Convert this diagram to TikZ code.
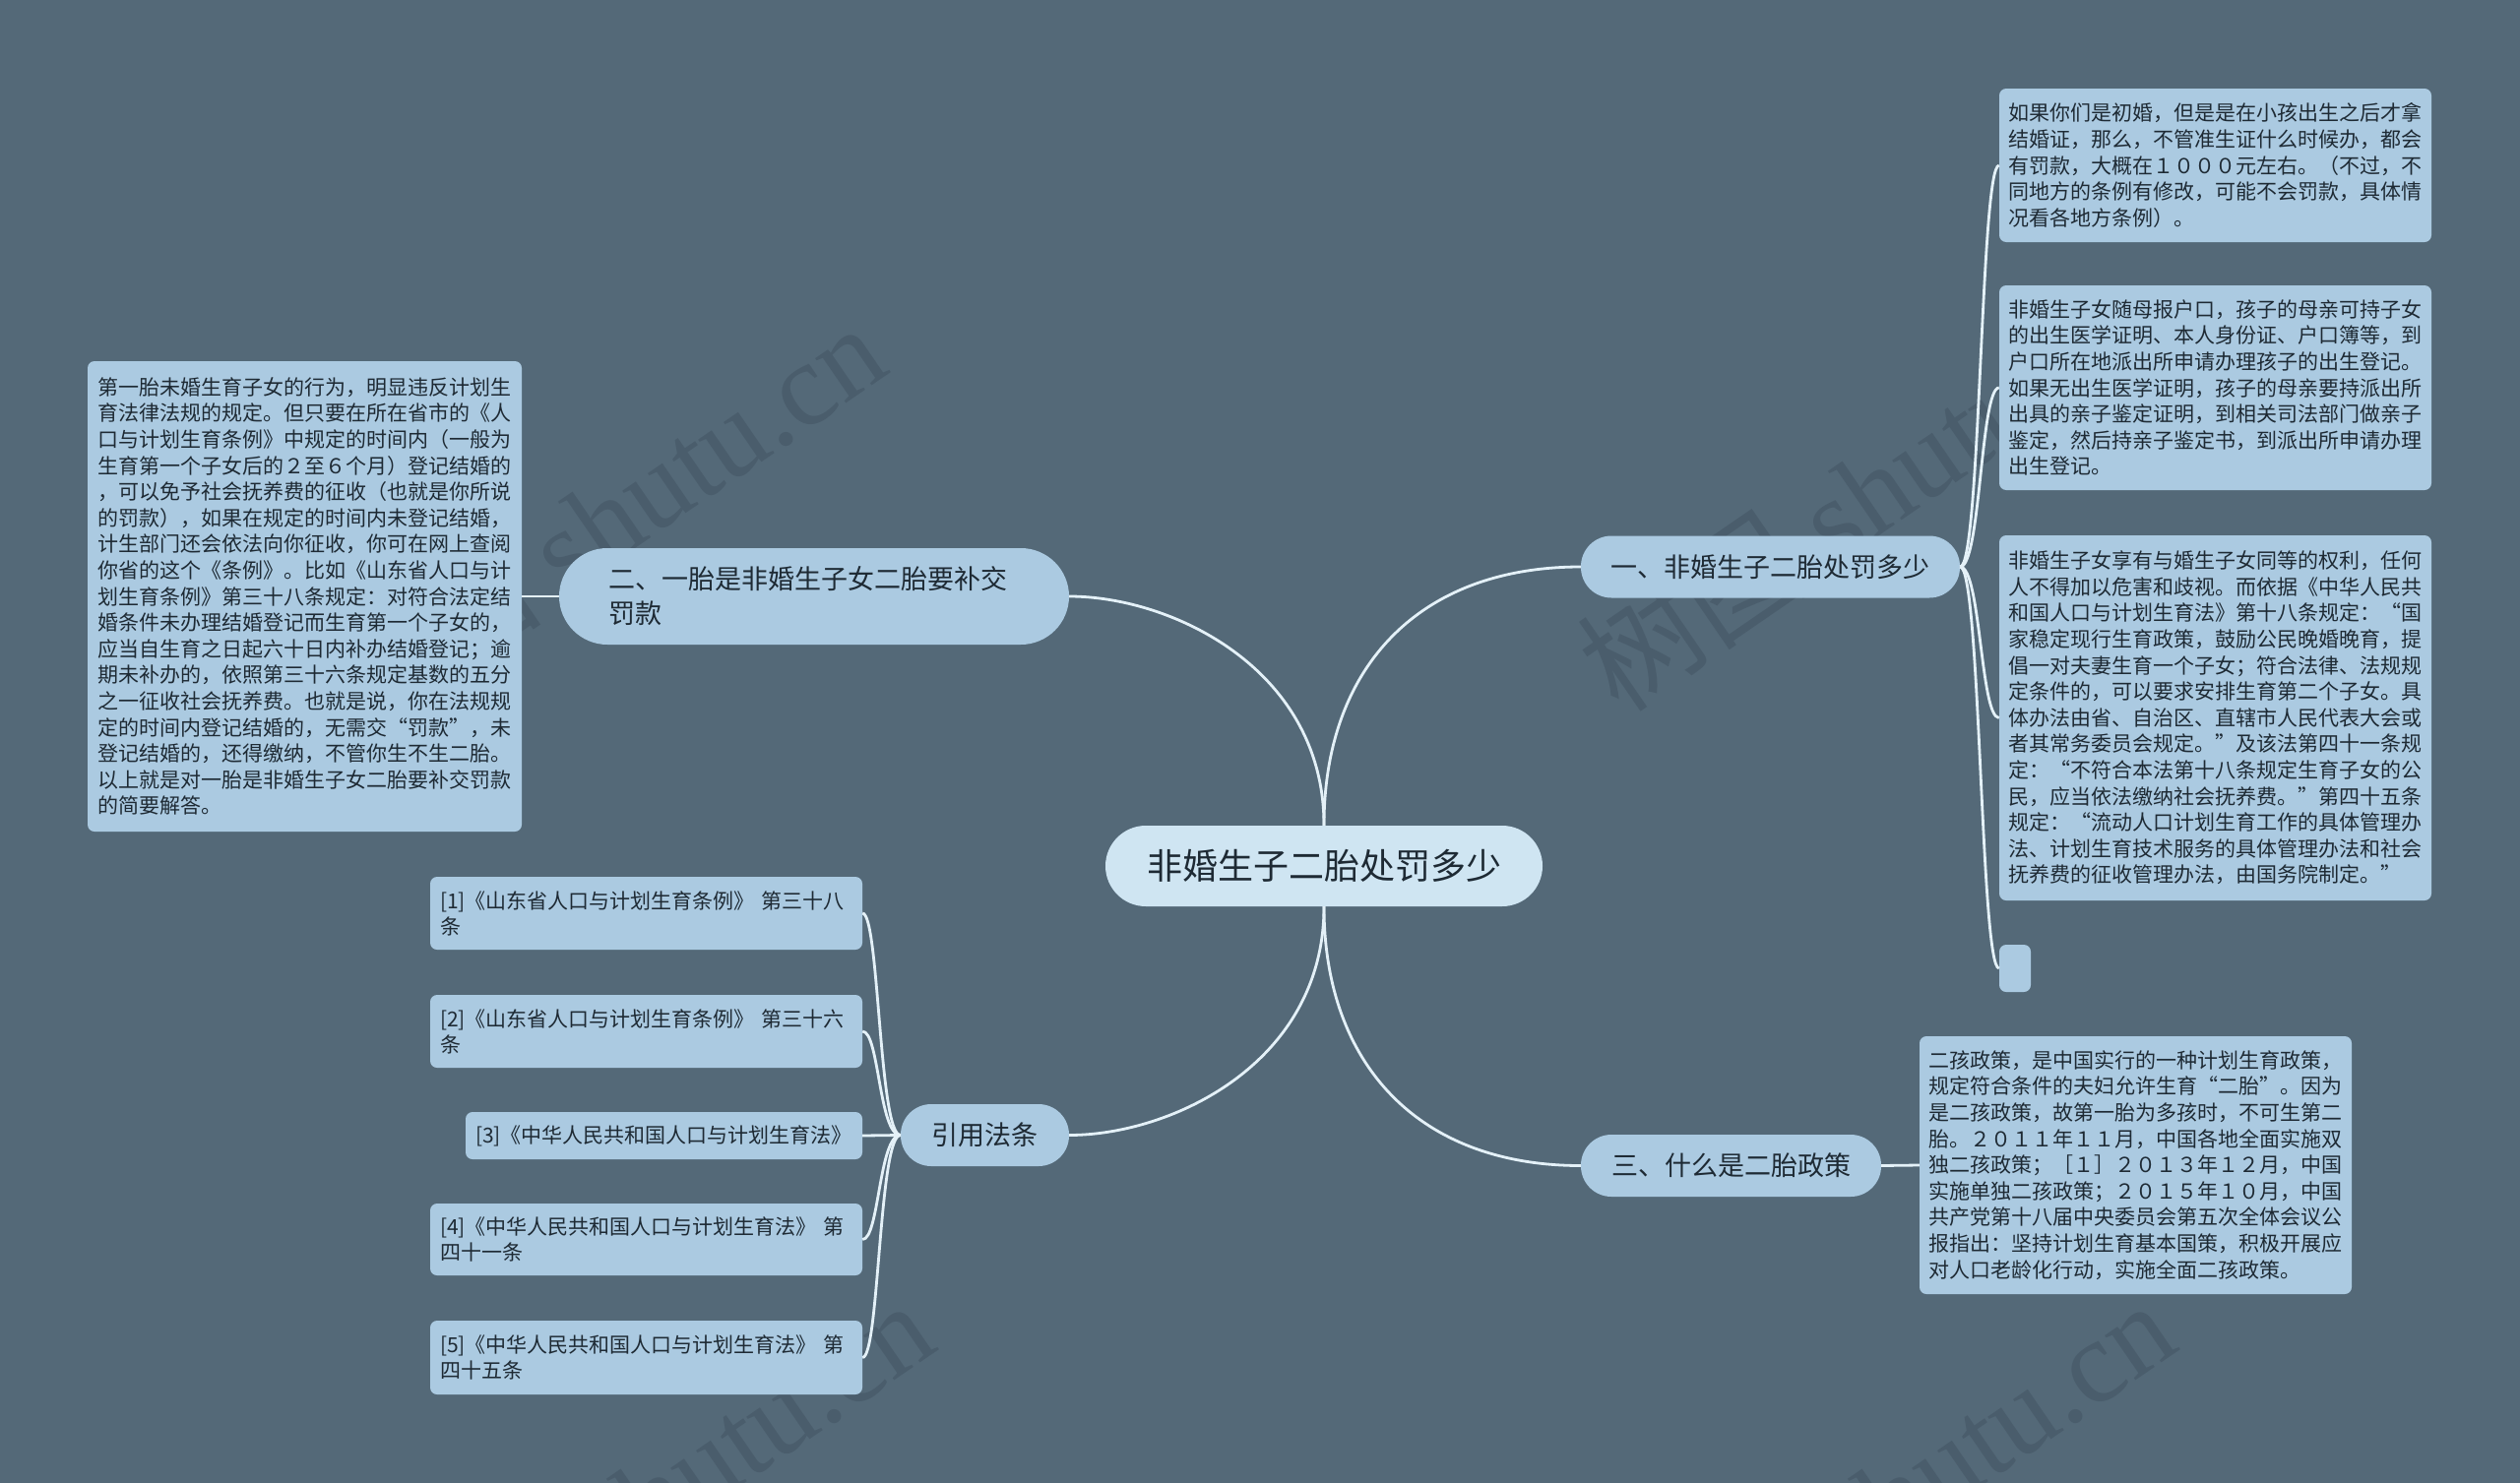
\documentclass[tikz,border=0pt]{standalone}
\usepackage{fontspec}
\setmainfont{Noto Sans CJK SC}
\newfontfamily\wmserif{Liberation Serif}
\definecolor{bgc}{HTML}{546978}
\definecolor{leafc}{HTML}{ABCAE1}
\definecolor{rootc}{HTML}{CFE5F2}
\definecolor{txtc}{HTML}{1E2A34}
\definecolor{linec}{HTML}{E4F1F8}
\definecolor{wmc}{HTML}{4A5D6C}
\begin{document}
\begin{tikzpicture}[x=1pt,y=-1pt,
  conn/.style={draw=linec, line width=2.8pt},
  leafbox/.style={fill=leafc, rounded corners=7pt, text=txtc, align=left, inner xsep=9.5pt, inner ysep=0pt,
    font=\fontsize{21pt}{26.6pt}\selectfont, text width=420pt, minimum width=439pt},
  refbox/.style={leafbox, font=\fontsize{21pt}{25.8pt}\selectfont, inner xsep=10pt, text width=419pt},
  brbox/.style={fill=leafc, text=txtc, font=\fontsize{27pt}{35pt}\selectfont, minimum height=63pt,
    rounded corners=31pt, inner xsep=0pt, inner ysep=0pt},
  rootbox/.style={fill=rootc, text=txtc, font=\fontsize{36pt}{40pt}\selectfont, minimum width=444pt,
    minimum height=82pt, rounded corners=41pt, inner sep=0pt},
  wmark/.style={text=wmc, rotate=34.5, anchor=west, font=\fontsize{120pt}{120pt}\selectfont, inner sep=0pt}
]
\useasboundingbox (0,0) rectangle (2560,1507);
\clip (0,0) rectangle (2560,1507);
\fill[bgc] (0,0) rectangle (2560,1507);

% watermarks
\node[wmark] (wm1) at (329,720) {树图 {\wmserif shutu.cn}};
\node[wmark] (wm2) at (1619,689) {树图 {\wmserif shutu.cn}};
\node[wmark] (wm3) at (378,1713) {树图 {\wmserif shutu.cn}};
\node[wmark] (wm4) at (1639,1713) {树图 {\wmserif shutu.cn}};

% root and branches
\node[rootbox] (root) at (1345,880) {非婚生子二胎处罚多少};
\node[brbox, minimum width=385pt] (b1) at (1798.5,576) {一、非婚生子二胎处罚多少};
\node[brbox, minimum width=518pt, minimum height=98pt, rounded corners=49pt, align=left, text width=418pt] (b2) at (827,606) {二、一胎是非婚生子女二胎要补交\\罚款};
\node[brbox, minimum width=305pt] (b3) at (1758.5,1184.5) {三、什么是二胎政策};
\node[brbox, minimum width=171pt] (b4) at (1000.5,1153.5) {引用法条};

% right leaves of b1
\node[leafbox, minimum height=156pt] (r1) at (2250.5,168) {如果你们是初婚，但是是在小孩出生之后才拿\\结婚证，那么，不管准生证什么时候办，都会\\有罚款，大概在１０００元左右。（不过，不\\同地方的条例有修改，可能不会罚款，具体情\\况看各地方条例）。};
\node[leafbox, minimum height=208pt] (r2) at (2250.5,394) {非婚生子女随母报户口，孩子的母亲可持子女\\的出生医学证明、本人身份证、户口簿等，到\\户口所在地派出所申请办理孩子的出生登记。\\如果无出生医学证明，孩子的母亲要持派出所\\出具的亲子鉴定证明，到相关司法部门做亲子\\鉴定，然后持亲子鉴定书，到派出所申请办理\\出生登记。};
\node[leafbox, minimum height=371pt] (r3) at (2250.5,729.5) {非婚生子女享有与婚生子女同等的权利，任何\\人不得加以危害和歧视。而依据《中华人民共\\和国人口与计划生育法》第十八条规定：“国\\家稳定现行生育政策，鼓励公民晚婚晚育，提\\倡一对夫妻生育一个子女；符合法律、法规规\\定条件的，可以要求安排生育第二个子女。具\\体办法由省、自治区、直辖市人民代表大会或\\者其常务委员会规定。”及该法第四十一条规\\定：“不符合本法第十八条规定生育子女的公\\民，应当依法缴纳社会抚养费。”第四十五条\\规定：“流动人口计划生育工作的具体管理办\\法、计划生育技术服务的具体管理办法和社会\\抚养费的征收管理办法，由国务院制定。”};
\node[fill=leafc, rounded corners=7pt, minimum width=32pt, minimum height=48pt, inner sep=0pt] (r4) at (2047,984) {};

% leaf of b3
\node[leafbox, minimum height=262pt] (bx) at (2169.5,1184) {二孩政策，是中国实行的一种计划生育政策，\\规定符合条件的夫妇允许生育“二胎”。因为\\是二孩政策，故第一胎为多孩时，不可生第二\\胎。２０１１年１１月，中国各地全面实施双\\独二孩政策；［１］２０１３年１２月，中国\\实施单独二孩政策；２０１５年１０月，中国\\共产党第十八届中央委员会第五次全体会议公\\报指出：坚持计划生育基本国策，积极开展应\\对人口老龄化行动，实施全面二孩政策。};

% leaf of b2
\node[leafbox, minimum width=441pt, inner xsep=10.5pt, minimum height=478pt] (lx) at (309.5,606) {第一胎未婚生育子女的行为，明显违反计划生\\育法律法规的规定。但只要在所在省市的《人\\口与计划生育条例》中规定的时间内（一般为\\生育第一个子女后的２至６个月）登记结婚的\\，可以免予社会抚养费的征收（也就是你所说\\的罚款），如果在规定的时间内未登记结婚，\\计生部门还会依法向你征收，你可在网上查阅\\你省的这个《条例》。比如《山东省人口与计\\划生育条例》第三十八条规定：对符合法定结\\婚条件未办理结婚登记而生育第一个子女的，\\应当自生育之日起六十日内补办结婚登记；逾\\期未补办的，依照第三十六条规定基数的五分\\之一征收社会抚养费。也就是说，你在法规规\\定的时间内登记结婚的，无需交“罚款”，未\\登记结婚的，还得缴纳，不管你生不生二胎。\\以上就是对一胎是非婚生子女二胎要补交罚款\\的简要解答。};

% references of b4
\node[refbox, minimum height=74pt] (f1) at (656.5,928) {[1]《山东省人口与计划生育条例》 第三十八\\条};
\node[refbox, minimum height=74pt] (f2) at (656.5,1048) {[2]《山东省人口与计划生育条例》 第三十六\\条};
\node[fill=leafc, rounded corners=7pt, text=txtc, font=\fontsize{21pt}{25.8pt}\selectfont, minimum width=403pt, minimum height=48pt, inner sep=0pt] (f3) at (674.5,1154) {[3]《中华人民共和国人口与计划生育法》};
\node[refbox, minimum height=73pt] (f4) at (656.5,1259.5) {[4]《中华人民共和国人口与计划生育法》 第\\四十一条};
\node[refbox, minimum height=75pt] (f5) at (656.5,1379.5) {[5]《中华人民共和国人口与计划生育法》 第\\四十五条};

% connectors
\draw[conn] (root.north) .. controls +(0,-159) and +(-166,0) .. (b1.west);
\draw[conn] (root.north) .. controls +(0,-159) and +(104,0) .. (b2.east);
\draw[conn] (root.south) .. controls +(0,159) and +(-166,0) .. (b3.west);
\draw[conn] (root.south) .. controls +(0,159) and +(104,0) .. (b4.east);

\draw[conn] (b1.east) .. controls +(21,0) and +(-19,0) .. (r1.west);
\draw[conn] (b1.east) .. controls +(21,0) and +(-19,0) .. (r2.west);
\draw[conn] (b1.east) .. controls +(21,0) and +(-19,0) .. (r3.west);
\draw[conn] (b1.east) .. controls +(21,0) and +(-19,0) .. (r4.west);

\draw[conn] (b2.west) -- (lx.east);
\draw[conn] (b3.east) -- (bx.west);

\draw[conn] (b4.west) .. controls +(-22,0) and +(17,0) .. (f1.east);
\draw[conn] (b4.west) .. controls +(-22,0) and +(17,0) .. (f2.east);
\draw[conn] (b4.west) -- (f3.east);
\draw[conn] (b4.west) .. controls +(-22,0) and +(17,0) .. (f4.east);
\draw[conn] (b4.west) .. controls +(-22,0) and +(17,0) .. (f5.east);
\end{tikzpicture}
\end{document}
